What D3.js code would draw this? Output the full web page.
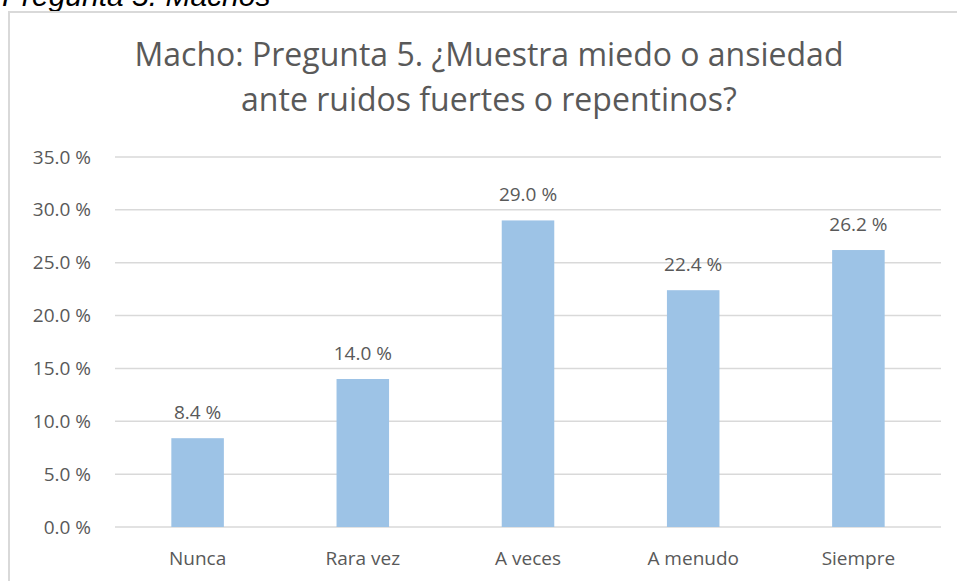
<!DOCTYPE html>
<html>
<head>
<meta charset="utf-8">
<script src="https://cdn.jsdelivr.net/npm/d3@7"></script>
<style>
  body { margin: 0; background: #fff; }
  text { font-family: "Open Sans", "Noto Sans", sans-serif; }
</style>
</head>
<body>
<div id="chart"></div>
<script>
var svgWidth = 957;
var svgHeight = 581;

// data
var categories = ["Nunca", "Rara vez", "A veces", "A menudo", "Siempre"];
var values = [8.4, 14.0, 29.0, 22.4, 26.2];
var yTicks = [0, 5, 10, 15, 20, 25, 30, 35];
var titleLines = ["Macho: Pregunta 5. ¿Muestra miedo o ansiedad", "ante ruidos fuertes o repentinos?"];
var captionText = "Pregunta 5. Machos";

var grey = "#595959";
var pct = d => d3.format(".1f")(d) + " %";

var svg = d3.select("#chart")
  .append("svg")
  .attr("width", svgWidth)
  .attr("height", svgHeight);

// caption above the chart box (cut by the top edge, as in the source)
svg.append("text")
  .attr("x", 2)
  .attr("y", 6)
  .style("font-family", "'Liberation Sans', Arial, sans-serif")
  .style("font-style", "italic")
  .attr("font-size", "30px")
  .attr("fill", "#000")
  .text(captionText);

// chart border
svg.append("rect")
  .attr("x", 9)
  .attr("y", 12)
  .attr("width", 960)
  .attr("height", 600)
  .attr("fill", "none")
  .attr("stroke", "#d9d9d9")
  .attr("stroke-width", 2);

// title
svg.append("g").selectAll("text")
  .data(titleLines)
  .enter()
  .append("text")
  .attr("x", 489)
  .attr("y", (d, i) => 66 + i * 45)
  .attr("text-anchor", "middle")
  .attr("font-size", "32px")
  .attr("fill", grey)
  .text(d => d);

// scales
var xScale = d3.scaleBand()
  .domain(categories)
  .range([115, 941])
  .paddingInner(0.682)
  .paddingOuter(0.341);

var yScale = d3.scaleLinear()
  .domain([0, 35])
  .range([527, 157]);

// gridlines
svg.append("g")
  .selectAll("line")
  .data(yTicks)
  .enter()
  .append("line")
  .attr("x1", 115)
  .attr("x2", 941)
  .attr("y1", d => yScale(d))
  .attr("y2", d => yScale(d))
  .attr("stroke", "#d9d9d9")
  .attr("stroke-width", 1.5);

// y axis labels
var yAxis = d3.axisLeft(yScale)
  .tickValues(yTicks)
  .tickSize(0)
  .tickPadding(0)
  .tickFormat(pct);

var yG = svg.append("g")
  .attr("transform", "translate(91,0)")
  .call(yAxis);
yG.select(".domain").remove();
yG.selectAll("text")
  .attr("font-size", "19px")
  .attr("font-family", null)
  .attr("fill", grey);

// bars
svg.append("g")
  .selectAll("rect")
  .data(values)
  .enter()
  .append("rect")
  .attr("x", (d, i) => xScale(categories[i]))
  .attr("y", d => yScale(d))
  .attr("width", xScale.bandwidth())
  .attr("height", d => yScale(0) - yScale(d))
  .attr("fill", "#9dc3e6");

// value labels
svg.append("g")
  .selectAll("text")
  .data(values)
  .enter()
  .append("text")
  .attr("x", (d, i) => xScale(categories[i]) + xScale.bandwidth() / 2)
  .attr("y", d => yScale(d) - 19)
  .attr("text-anchor", "middle")
  .attr("font-size", "19px")
  .attr("fill", grey)
  .text(pct);

// x axis labels
var xAxis = d3.axisBottom(xScale).tickSize(0).tickPadding(0);
var xG = svg.append("g")
  .attr("transform", "translate(0,551)")
  .call(xAxis);
xG.select(".domain").remove();
xG.selectAll("text")
  .attr("font-size", "19px")
  .attr("font-family", null)
  .attr("fill", grey);
</script>
</body>
</html>
